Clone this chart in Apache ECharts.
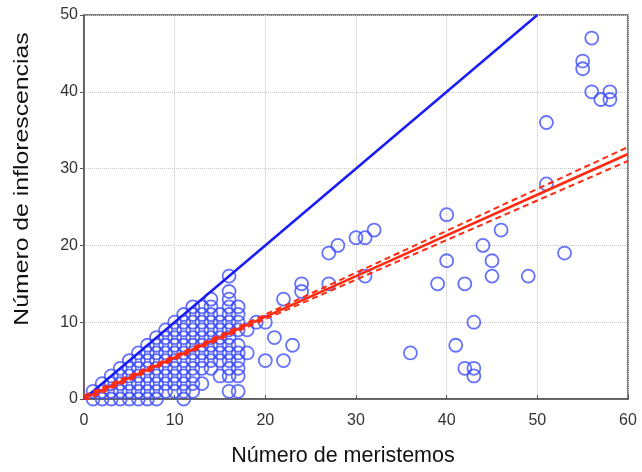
<!DOCTYPE html>
<html>
<head>
<meta charset="utf-8">
<script src="https://cdn.jsdelivr.net/npm/echarts@6/dist/echarts.min.js"></script>
<style>
  html, body { margin: 0; padding: 0; background: #fff; }
  #chart { width: 642px; height: 472px; }
</style>
</head>
<body>
<div id="chart"></div>
<script>
// Observed plants: number of meristems (x) and number of inflorescences (y)
const meristemos = [
  1,1, 2,2,2, 3,3,3,3, 4,4,4,4,4, 5,5,5,5,5,5,
  6,6,6,6,6,6,6, 7,7,7,7,7,7,7,7, 8,8,8,8,8,8,8,8,8,
  9,9,9,9,9,9,9,9,9, 10,10,10,10,10,10,10,10,10,10,
  11,11,11,11,11,11,11,11,11,11,11,11,
  12,12,12,12,12,12,12,12,12,12,12,12,
  13,13,13,13,13,13,13,13,13,13,
  14,14,14,14,14,14,14,14,14,14,
  15,15,15,15,15,15,15,15,
  16,16,16,16,16,16,16,16,16,16,16,16,16,16,
  17,17,17,17,17,17,17,17,17,17,
  18,18, 19, 20,20, 21, 22,22, 23, 24,24,
  27,27, 28, 30, 31,31, 32, 36, 39, 40,40, 41,
  42,42, 43,43,43, 44, 45,45, 46, 49, 51,51, 53,
  55,55, 56,56, 57, 58,58
];
const inflorescencias = [
  0,1, 0,1,2, 0,1,2,3, 0,1,2,3,4, 0,1,2,3,4,5,
  0,1,2,3,4,5,6, 0,1,2,3,4,5,6,7, 0,1,2,3,4,5,6,7,8,
  1,2,3,4,5,6,7,8,9, 1,2,3,4,5,6,7,8,9,10,
  0,1,2,3,4,5,6,7,8,9,10,11,
  1,2,3,4,5,6,7,8,9,10,11,12,
  2,4,5,6,7,8,9,10,11,12,
  4,5,6,7,8,9,10,11,12,13,
  3,5,6,7,8,9,10,11,
  1,3,4,5,6,7,8,9,10,11,12,13,14,16,
  1,3,4,5,6,7,9,10,11,12,
  6,9, 10, 10,5, 8, 13,5, 7, 15,14,
  19,15, 20, 21, 21,16, 22, 6, 15, 24,18, 7,
  15,4, 4,3,10, 20, 18,16, 22, 16, 36,28, 19,
  44,43, 47,40, 39, 40,39
];

// Reference line y = x
const identidadX = [0, 50];
const identidadY = [0, 50];

// Fitted regression line and its confidence limits
const ajusteX = [0, 10, 20, 30, 40, 50, 60];
const ajusteY = [0.1, 5.4, 10.7, 16.0, 21.3, 26.6, 31.9];
const limiteSup = [0.45, 5.65, 11.0, 16.45, 21.9, 27.35, 32.8];
const limiteInf = [-0.25, 5.15, 10.4, 15.55, 20.7, 25.85, 31.0];

const xTicks = [0, 10, 20, 30, 40, 50, 60];
const yTicks = [0, 10, 20, 30, 40, 50];

const pares = (xs, ys) => xs.map((x, i) => [x, ys[i]]);

const FONT = '"Liberation Sans", Arial, sans-serif';
const chart = echarts.init(document.getElementById('chart'), null, { renderer: 'canvas' });

const grid = { left: 84, right: 14, top: 15, bottom: 67 };

chart.setOption({
  animation: false,
  backgroundColor: '#ffffff',
  grid: Object.assign({ show: true, borderColor: '#555', borderWidth: 1.5, backgroundColor: 'transparent' }, grid),
  xAxis: {
    type: 'value', min: xTicks[0], max: xTicks[xTicks.length - 1], interval: 10,
    name: 'Número de meristemos', nameLocation: 'middle', nameGap: 46,
    nameTextStyle: { fontFamily: FONT, fontSize: 21.5, color: '#111', padding: [0, 26, 0, 0] },
    axisLine: { show: true, lineStyle: { color: '#555', width: 1.5 } },
    axisTick: { show: true, inside: true, length: 4, lineStyle: { color: '#555' } },
    axisLabel: { fontFamily: FONT, fontSize: 16, color: '#333', margin: 14 },
    splitLine: { show: true, lineStyle: { color: '#c8c8c8', type: 'dotted', width: 1 } }
  },
  yAxis: {
    type: 'value', min: yTicks[0], max: yTicks[yTicks.length - 1], interval: 10,
    axisLine: { show: true, lineStyle: { color: '#555', width: 1.5 } },
    axisTick: { show: true, length: 4, lineStyle: { color: '#555' } },
    axisLabel: { fontFamily: FONT, fontSize: 16, color: '#333', margin: 6 },
    splitLine: { show: true, lineStyle: { color: '#c8c8c8', type: 'dotted', width: 1 } }
  },
  graphic: [{
    type: 'text',
    x: 33, y: 179,
    rotation: Math.PI / 2,
    scaleX: 1.18,
    style: {
      text: 'Número de inflorescencias',
      font: '21px ' + FONT,
      fill: '#111',
      align: 'center',
      verticalAlign: 'bottom'
    }
  }],
  series: [
    {
      type: 'scatter',
      data: pares(meristemos, inflorescencias),
      symbol: 'circle',
      symbolSize: 13,
      itemStyle: { color: 'transparent', borderColor: '#3f4ffb', borderWidth: 1.8 },
      z: 2
    },
    {
      type: 'line',
      data: pares(identidadX, identidadY),
      showSymbol: false,
      lineStyle: { color: '#1a1cf5', width: 2.5 },
      z: 3
    },
    {
      type: 'line',
      data: pares(ajusteX, limiteSup),
      showSymbol: false,
      clip: true,
      lineStyle: { color: '#ff2a10', width: 2, type: [6, 4] },
      z: 4
    },
    {
      type: 'line',
      data: pares(ajusteX, limiteInf),
      showSymbol: false,
      clip: true,
      lineStyle: { color: '#ff2a10', width: 2, type: [6, 4] },
      z: 4
    },
    {
      type: 'line',
      data: pares(ajusteX, ajusteY),
      showSymbol: false,
      clip: true,
      lineStyle: { color: '#ff2a10', width: 2.6 },
      z: 5
    }
  ]
});
</script>
</body>
</html>
